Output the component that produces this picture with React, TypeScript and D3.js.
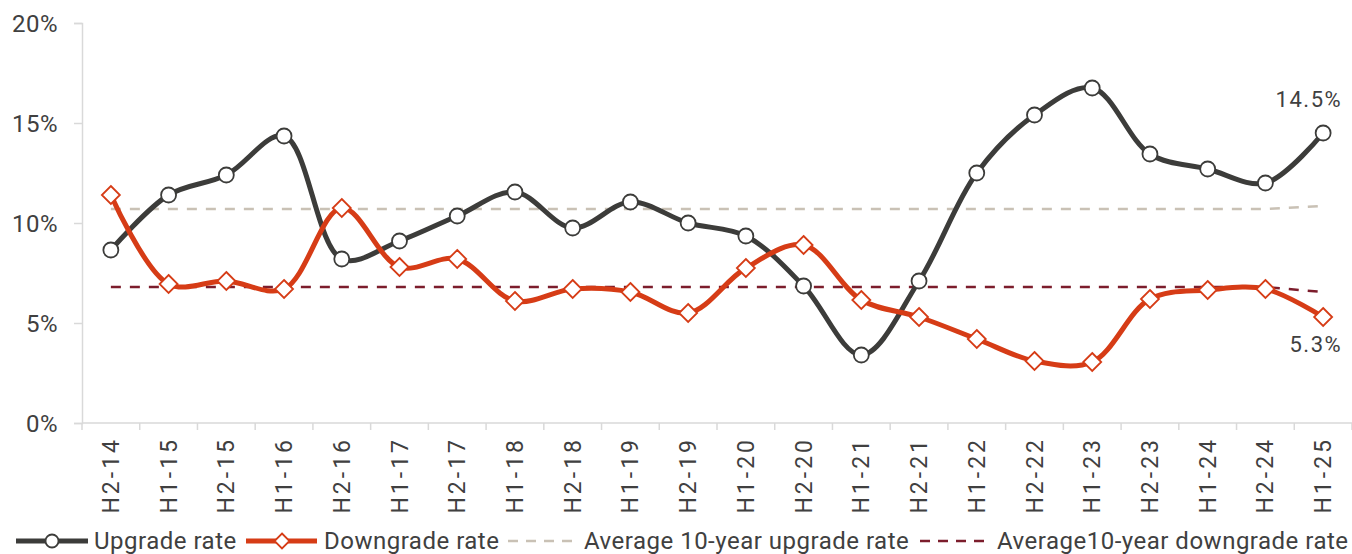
import React, { useRef, useEffect } from 'react';
import * as d3 from 'd3';

const periods = [
  'H2-14', 'H1-15', 'H2-15', 'H1-16', 'H2-16', 'H1-17', 'H2-17', 'H1-18', 'H2-18', 'H1-19', 'H2-19',
  'H1-20', 'H2-20', 'H1-21', 'H2-21', 'H1-22', 'H2-22', 'H1-23', 'H2-23', 'H1-24', 'H2-24', 'H1-25',
];

const upgradeRate = [
  8.65, 11.4, 12.4, 14.35, 8.2, 9.1, 10.35, 11.55, 9.75, 11.05, 10.0,
  9.35, 6.85, 3.4, 7.1, 12.5, 15.4, 16.75, 13.45, 12.7, 12.0, 14.5,
];

const downgradeRate = [
  11.4, 6.95, 7.1, 6.7, 10.75, 7.8, 8.2, 6.1, 6.7, 6.55, 5.5,
  7.75, 8.9, 6.15, 5.3, 4.2, 3.1, 3.05, 6.2, 6.65, 6.7, 5.3,
];

const avgUpgrade = [
  10.7, 10.7, 10.7, 10.7, 10.7, 10.7, 10.7, 10.7, 10.7, 10.7, 10.7,
  10.7, 10.7, 10.7, 10.7, 10.7, 10.7, 10.7, 10.7, 10.7, 10.7, 10.85,
];

const avgDowngrade = [
  6.8, 6.8, 6.8, 6.8, 6.8, 6.8, 6.8, 6.8, 6.8, 6.8, 6.8,
  6.8, 6.8, 6.8, 6.8, 6.8, 6.8, 6.8, 6.8, 6.8, 6.8, 6.55,
];

const yTicks = [0, 5, 10, 15, 20];

const FONT = 'Roboto, "Noto Sans", sans-serif';
const TEXT = '#404040';
const UP = '#3c3c3a';
const DOWN = '#d63c16';
const AVG_UP = '#c9c1b5';
const AVG_DOWN = '#7c1d2c';

const App: React.FC = () => {
  const ref = useRef<SVGSVGElement>(null);

  useEffect(() => {
    const svgEl = ref.current;
    if (!svgEl) return;
    const svg = d3.select(svgEl);
    svg.selectAll('*').remove();

    /* ---------- Layout ---------- */
    const left = 82;
    const right = 1352;
    const top = 23;
    const bottom = 423;

    const x = d3.scaleBand<string>().domain(periods).range([left, right]);
    const cx = (i: number) => x(periods[i])! + x.bandwidth() / 2;
    const y = d3.scaleLinear().domain([0, 20]).range([bottom, top]);

    /* ---------- Axes ---------- */
    const yAxis = svg.append('g').attr('transform', `translate(${left},0)`)
      .call(d3.axisLeft(y).tickValues(yTicks).tickSize(8).tickPadding(16).tickFormat((d) => `${d}%`));
    yAxis.select('.domain').attr('stroke', '#d9d9d9').attr('stroke-width', 1.5);
    yAxis.selectAll('.tick line').attr('stroke', '#d9d9d9').attr('stroke-width', 1.5);
    yAxis.selectAll('.tick text')
      .attr('fill', TEXT).attr('dy', '0.36em')
      .style('font-family', FONT).style('font-size', '24px').style('letter-spacing', '0.5px');

    const xg = svg.append('g');
    xg.append('line')
      .attr('x1', left).attr('x2', right).attr('y1', bottom).attr('y2', bottom)
      .attr('stroke', '#d9d9d9').attr('stroke-width', 1.5);
    xg.selectAll('line.tick')
      .data(d3.range(periods.length + 1))
      .enter()
      .append('line')
      .attr('class', 'tick')
      .attr('x1', (i: number) => left + i * x.step())
      .attr('x2', (i: number) => left + i * x.step())
      .attr('y1', bottom)
      .attr('y2', bottom + 7)
      .attr('stroke', '#d9d9d9').attr('stroke-width', 1.5);
    xg.selectAll('text')
      .data(periods)
      .enter()
      .append('text')
      .attr('transform', (_d: string, i: number) => `translate(${cx(i) + 8},${bottom + 14}) rotate(-90)`)
      .attr('text-anchor', 'end')
      .attr('fill', TEXT)
      .style('font-family', FONT)
      .style('font-size', '23px')
      .style('letter-spacing', '3px')
      .text((d: string) => d);

    /* ---------- Average lines ---------- */
    const flat = d3.line<number>().x((_d, i) => cx(i)).y((d) => y(d));
    svg.append('path').attr('d', flat(avgUpgrade)!)
      .attr('fill', 'none').attr('stroke', AVG_UP).attr('stroke-width', 2.5).attr('stroke-dasharray', '10,9');
    svg.append('path').attr('d', flat(avgDowngrade)!)
      .attr('fill', 'none').attr('stroke', AVG_DOWN).attr('stroke-width', 2.5).attr('stroke-dasharray', '10,9');

    /* ---------- Series ---------- */
    const smooth = d3.line<number>().x((_d, i) => cx(i)).y((d) => y(d)).curve(d3.curveCatmullRom.alpha(0.5));

    svg.append('path').attr('d', smooth(upgradeRate)!)
      .attr('fill', 'none').attr('stroke', UP).attr('stroke-width', 5).attr('stroke-linejoin', 'round');
    svg.append('path').attr('d', smooth(downgradeRate)!)
      .attr('fill', 'none').attr('stroke', DOWN).attr('stroke-width', 5).attr('stroke-linejoin', 'round');

    const diamond = (s: number) => `M0,${-s} L${s},0 L0,${s} L${-s},0 Z`;

    svg.selectAll('path.down-marker')
      .data(downgradeRate)
      .enter()
      .append('path')
      .attr('class', 'down-marker')
      .attr('d', diamond(9))
      .attr('transform', (d: number, i: number) => `translate(${cx(i)},${y(d)})`)
      .attr('fill', '#fff').attr('stroke', DOWN).attr('stroke-width', 1.8);

    svg.selectAll('circle.up-marker')
      .data(upgradeRate)
      .enter()
      .append('circle')
      .attr('class', 'up-marker')
      .attr('cx', (_d: number, i: number) => cx(i))
      .attr('cy', (d: number) => y(d))
      .attr('r', 7.5)
      .attr('fill', '#fff').attr('stroke', UP).attr('stroke-width', 1.8);

    /* ---------- End labels ---------- */
    const last = periods.length - 1;
    svg.append('text')
      .attr('x', cx(last) + 19).attr('y', y(upgradeRate[last]) - 26)
      .attr('text-anchor', 'end').attr('fill', TEXT)
      .style('font-family', FONT).style('font-size', '22px').style('letter-spacing', '1.5px')
      .text(`${upgradeRate[last].toFixed(1)}%`);
    svg.append('text')
      .attr('x', cx(last) + 19).attr('y', y(downgradeRate[last]) + 35)
      .attr('text-anchor', 'end').attr('fill', TEXT)
      .style('font-family', FONT).style('font-size', '22px').style('letter-spacing', '1.5px')
      .text(`${downgradeRate[last].toFixed(1)}%`);

    /* ---------- Legend ---------- */
    const ly = 541;
    const legend = svg.append('g').style('font-family', FONT).style('font-size', '24px').style('letter-spacing', '0.5px');

    legend.append('line').attr('x1', 16).attr('x2', 88).attr('y1', ly).attr('y2', ly)
      .attr('stroke', UP).attr('stroke-width', 5);
    legend.append('circle').attr('cx', 52).attr('cy', ly).attr('r', 6.5)
      .attr('fill', '#fff').attr('stroke', UP).attr('stroke-width', 1.8);
    legend.append('text').attr('x', 94).attr('y', ly + 8).attr('fill', TEXT).text('Upgrade rate');

    legend.append('line').attr('x1', 246).attr('x2', 317).attr('y1', ly).attr('y2', ly)
      .attr('stroke', DOWN).attr('stroke-width', 5);
    legend.append('path').attr('d', diamond(7.5)).attr('transform', `translate(282,${ly})`)
      .attr('fill', '#fff').attr('stroke', DOWN).attr('stroke-width', 1.8);
    legend.append('text').attr('x', 324).attr('y', ly + 8).attr('fill', TEXT).text('Downgrade rate');

    legend.append('line').attr('x1', 508).attr('x2', 572).attr('y1', ly).attr('y2', ly)
      .attr('stroke', AVG_UP).attr('stroke-width', 2.5).attr('stroke-dasharray', '10,8');
    legend.append('text').attr('x', 584).attr('y', ly + 8).attr('fill', TEXT).text('Average 10-year upgrade rate');

    legend.append('line').attr('x1', 920).attr('x2', 984).attr('y1', ly).attr('y2', ly)
      .attr('stroke', AVG_DOWN).attr('stroke-width', 2.5).attr('stroke-dasharray', '10,8');
    legend.append('text').attr('x', 997).attr('y', ly + 8).attr('fill', TEXT).text('Average10-year downgrade rate');
  }, []);

  return (
    <div style={{ position: 'absolute', left: 0, top: 0, background: '#fff' }}>
      <svg ref={ref} width={1352} height={554} style={{ display: 'block' }} />
    </div>
  );
};

export default App;
